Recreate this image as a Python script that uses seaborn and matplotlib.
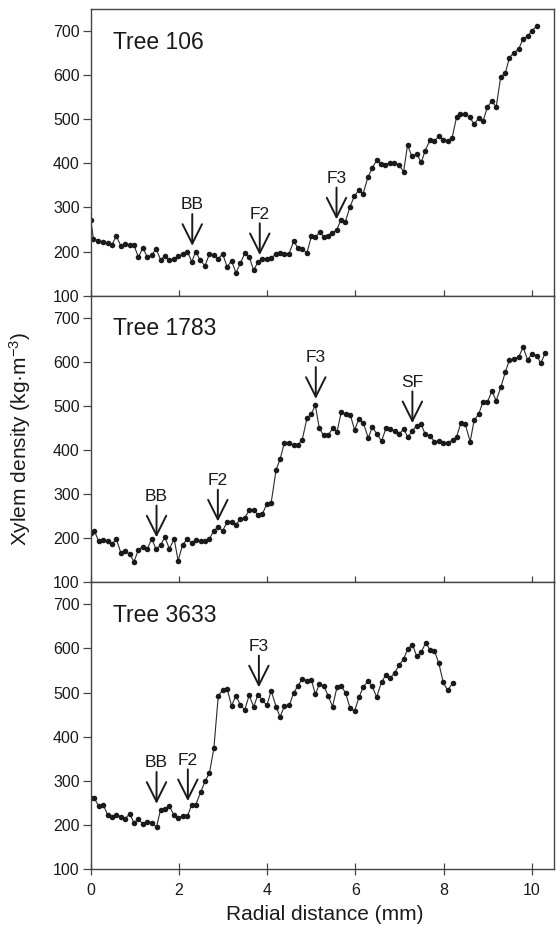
import matplotlib
matplotlib.use("Agg")
import matplotlib.pyplot as plt
import seaborn as sns
import pandas as pd

# values
x106 = [0.00, 0.06, 0.17, 0.27, 0.38, 0.48, 0.58, 0.68, 0.78, 0.88,
        0.98, 1.08, 1.18, 1.28, 1.38, 1.48, 1.58, 1.68, 1.78, 1.89,
        1.98, 2.08, 2.19, 2.29, 2.38, 2.48, 2.59, 2.69, 2.79, 2.89,
        2.99, 3.09, 3.19, 3.29, 3.39, 3.49, 3.59, 3.69, 3.79, 3.89,
        3.99, 4.09, 4.20, 4.29, 4.39, 4.49, 4.60, 4.70, 4.79, 4.90,
        5.00, 5.09, 5.19, 5.28, 5.37, 5.47, 5.57, 5.67, 5.77, 5.87,
        5.97, 6.08, 6.17, 6.28, 6.38, 6.48, 6.58, 6.68, 6.78, 6.88,
        6.98, 7.09, 7.18, 7.28, 7.39, 7.49, 7.58, 7.69, 7.79, 7.89,
        7.98, 8.09, 8.19, 8.29, 8.38, 8.49, 8.59, 8.69, 8.79, 8.89,
        8.99, 9.09, 9.19, 9.29, 9.40, 9.49, 9.59, 9.70, 9.80, 9.90,
        10.00, 10.11]
y106 = [271, 229, 225, 222, 219, 216, 235, 213, 218, 214,
        214, 187, 209, 187, 192, 206, 182, 189, 181, 184,
        189, 194, 200, 177, 200, 180, 168, 195, 192, 184,
        195, 165, 179, 152, 173, 196, 188, 158, 176, 183,
        184, 186, 194, 196, 195, 194, 224, 207, 206, 197,
        235, 233, 244, 234, 235, 243, 248, 272, 267, 300,
        325, 340, 330, 368, 390, 407, 398, 397, 401, 400,
        397, 381, 441, 416, 421, 402, 429, 453, 451, 461,
        454, 451, 458, 504, 511, 513, 504, 489, 502, 495,
        528, 541, 528, 595, 606, 640, 651, 659, 683, 688,
        701, 711]

x1783 = [0.00, 0.08, 0.18, 0.28, 0.38, 0.48, 0.58, 0.68, 0.78, 0.88,
         0.98, 1.08, 1.18, 1.28, 1.38, 1.48, 1.58, 1.68, 1.78, 1.89,
         1.98, 2.08, 2.19, 2.29, 2.38, 2.49, 2.59, 2.69, 2.79, 2.89,
         2.99, 3.09, 3.19, 3.29, 3.39, 3.49, 3.59, 3.69, 3.79, 3.89,
         3.99, 4.09, 4.20, 4.29, 4.39, 4.49, 4.60, 4.69, 4.79, 4.90,
         5.00, 5.09, 5.18, 5.28, 5.38, 5.48, 5.58, 5.68, 5.78, 5.88,
         5.98, 6.08, 6.18, 6.29, 6.38, 6.49, 6.59, 6.69, 6.78, 6.89,
         6.99, 7.09, 7.19, 7.29, 7.39, 7.49, 7.58, 7.69, 7.79, 7.89,
         7.99, 8.09, 8.20, 8.29, 8.39, 8.49, 8.60, 8.69, 8.79, 8.89,
         8.99, 9.09, 9.19, 9.30, 9.40, 9.49, 9.60, 9.70, 9.80, 9.90,
         10.00, 10.11, 10.20, 10.30]
y1783 = [212, 217, 193, 196, 193, 187, 198, 167, 170, 164,
         147, 174, 181, 175, 199, 175, 184, 203, 176, 198,
         149, 185, 198, 189, 196, 194, 193, 199, 217, 226,
         217, 237, 237, 231, 243, 247, 263, 265, 252, 255,
         278, 281, 355, 379, 417, 417, 411, 411, 422, 472,
         482, 502, 449, 433, 433, 449, 441, 487, 481, 480,
         446, 471, 461, 427, 452, 436, 420, 449, 447, 443,
         436, 448, 429, 444, 455, 458, 436, 432, 419, 420,
         417, 417, 422, 430, 461, 458, 419, 468, 481, 509,
         508, 534, 512, 544, 578, 604, 607, 611, 633, 605,
         617, 614, 597, 620]

x3633 = [0.00, 0.08, 0.18, 0.28, 0.38, 0.48, 0.58, 0.68, 0.78, 0.88,
         0.98, 1.08, 1.18, 1.28, 1.38, 1.49, 1.58, 1.68, 1.78, 1.89,
         1.98, 2.08, 2.19, 2.29, 2.38, 2.49, 2.59, 2.69, 2.79, 2.89,
         2.99, 3.09, 3.19, 3.29, 3.39, 3.49, 3.59, 3.69, 3.79, 3.89,
         3.99, 4.09, 4.20, 4.29, 4.39, 4.50, 4.60, 4.69, 4.79, 4.90,
         5.00, 5.09, 5.18, 5.28, 5.38, 5.48, 5.58, 5.68, 5.78, 5.88,
         5.98, 6.08, 6.18, 6.29, 6.38, 6.48, 6.59, 6.69, 6.78, 6.89,
         6.99, 7.09, 7.18, 7.29, 7.39, 7.49, 7.59, 7.69, 7.79, 7.89,
         7.99, 8.09, 8.20]
y3633 = [261, 260, 243, 246, 223, 217, 223, 219, 214, 225,
         205, 213, 202, 207, 205, 195, 234, 235, 242, 222,
         215, 221, 220, 246, 246, 274, 299, 318, 374, 493,
         505, 509, 470, 493, 472, 461, 494, 468, 495, 483,
         471, 504, 468, 445, 469, 471, 500, 514, 531, 527,
         529, 496, 519, 516, 493, 468, 512, 515, 498, 464,
         458, 490, 513, 527, 514, 490, 524, 540, 532, 545,
         562, 576, 598, 609, 582, 591, 613, 597, 595, 566,
         523, 505, 521]

trees = ["Tree 106", "Tree 1783", "Tree 3633"]

# arrow marks: label, x position, arrow tip value
mark_labels = [["BB", "F2", "F3"], ["BB", "F2", "F3", "SF"], ["BB", "F2", "F3"]]
mark_x = [[2.30, 3.83, 5.57], [1.49, 2.88, 5.10, 7.29], [1.49, 2.20, 3.81]]
mark_tip = [[213, 192, 273], [202, 238, 516, 461], [248, 254, 512]]

yticks = [100, 200, 300, 400, 500, 600, 700]
xticks = [0, 2, 4, 6, 8, 10]

sns.set_style("ticks")
plt.rcParams["font.family"] = ["Liberation Sans", "DejaVu Sans"]
plt.rcParams["mathtext.default"] = "regular"

fig = plt.figure(figsize=(5.6, 9.32), dpi=100)
gs = fig.add_gridspec(3, 1, left=90.8 / 560, right=554 / 560,
                      top=1 - 9 / 932, bottom=1 - 869 / 932, hspace=0)

series = [(x106, y106), (x1783, y1783), (x3633, y3633)]
for i, (xs, ys) in enumerate(series):
    ax = fig.add_subplot(gs[i])
    df = pd.DataFrame({"x": xs, "y": ys})
    sns.lineplot(data=df, x="x", y="y", ax=ax, color="#2a2a2a", lw=0.8,
                 marker="o", markersize=4, markeredgewidth=0,
                 markerfacecolor="#1a1a1a", estimator=None)
    ax.set_xlim(0, 10.5)
    ax.set_ylim(100, 750)
    ax.set_yticks(yticks)
    ax.set_xticks(xticks)
    ax.set_xlabel("")
    ax.set_ylabel("")
    for sp in ax.spines.values():
        sp.set_visible(True)
        sp.set_color("#444444")
        sp.set_linewidth(1.0)
    ax.tick_params(axis="y", direction="out", length=6, width=0.9,
                   color="#444444", labelsize=11.5, pad=2, labelcolor="#1a1a1a")
    if i < 2:
        ax.tick_params(axis="x", direction="in", length=4, width=0.9,
                       color="#444444", labelbottom=False)
    else:
        ax.tick_params(axis="x", direction="inout", length=8, width=0.9,
                       color="#444444", labelsize=11.5, pad=6, labelcolor="#1a1a1a")

    ax.text(0.5, 675, trees[i], fontsize=16.5, ha="left", va="center",
            color="#1a1a1a")

    for lab, mx, tip in zip(mark_labels[i], mark_x[i], mark_tip[i]):
        ax.annotate("", xy=(mx, tip), xytext=(mx, tip + 72),
                    arrowprops=dict(arrowstyle="->,head_length=0.7,head_width=0.35",
                                    lw=1.4, color="#1a1a1a", shrinkA=0, shrinkB=0,
                                    mutation_scale=20))
        ax.text(mx, tip + 76, lab, fontsize=12.5, ha="center", va="bottom",
                color="#1a1a1a")

fig.text(0.035, 1 - 439 / 932, "Xylem density (kg·m$^{-3}$)", rotation=90,
         ha="center", va="center", fontsize=15, color="#1a1a1a")
fig.text(325 / 560, 1 - 915 / 932, "Radial distance (mm)", ha="center",
         va="center", fontsize=15, color="#1a1a1a")

fig.savefig("out.png", dpi=100)
